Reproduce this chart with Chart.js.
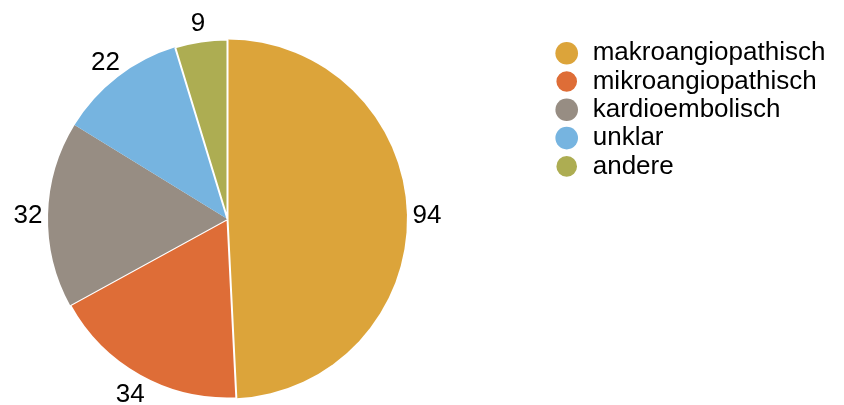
<!DOCTYPE html>
<html>
<head>
<meta charset="utf-8">
<script src="https://cdn.jsdelivr.net/npm/chart.js@4/dist/chart.umd.min.js"></script>
<style>
html,body{margin:0;padding:0;background:#fff;}
#c{display:block;}
</style>
</head>
<body>
<canvas id="c" width="844" height="405"></canvas>
<script>
const categories = ["makroangiopathisch", "mikroangiopathisch", "kardioembolisch", "unklar", "andere"];
const values = [94, 34, 32, 22, 9];
const colors = ["#DCA43A", "#DE6D37", "#978D83", "#76B4E0", "#ADAD52"];
const borderWidths = [0, 2, 0, 0, 2];

const FONT = "'Liberation Sans', Arial, sans-serif";

const outsideLabels = {
  id: "outsideLabels",
  afterDatasetsDraw(chart) {
    const ctx = chart.ctx;
    const meta = chart.getDatasetMeta(0);
    ctx.save();
    ctx.font = "26px " + FONT;
    ctx.fillStyle = "#000";
    ctx.textAlign = "center";
    ctx.textBaseline = "alphabetic";
    meta.data.forEach((arc, i) => {
      const p = arc.getProps(["x", "y", "startAngle", "endAngle", "outerRadius"], true);
      const mid = (p.startAngle + p.endAngle) / 2;
      const r = p.outerRadius + 20;
      ctx.fillText(String(chart.data.datasets[0].data[i]),
        p.x + Math.cos(mid) * r,
        p.y + Math.sin(mid) * r + 9.3);
    });
    ctx.restore();
  }
};

new Chart(document.getElementById("c"), {
  type: "pie",
  data: {
    labels: categories,
    datasets: [{
      data: values,
      backgroundColor: colors,
      borderColor: "#ffffff",
      borderWidth: borderWidths,
      radius: 179.5
    }]
  },
  options: {
    responsive: false,
    animation: false,
    layout: { padding: { left: 0, right: 8.6, top: 37.9, bottom: 4.9 } },
    plugins: {
      tooltip: { enabled: false },
      title: {
        display: true,
        text: "",
        position: "right",
        weight: 500,
        font: { size: 12 },
        padding: { top: 41, bottom: 41 }
      },
      legend: {
        position: "right",
        align: "start",
        weight: 1000,
        maxWidth: 420,
        labels: {
          usePointStyle: true,
          pointStyle: "circle",
          boxWidth: 26,
          boxHeight: 16,
          padding: 2.3,
          color: "#000",
          font: { family: FONT, size: 26 }
        }
      }
    }
  },
  plugins: [outsideLabels]
});
</script>
</body>
</html>
